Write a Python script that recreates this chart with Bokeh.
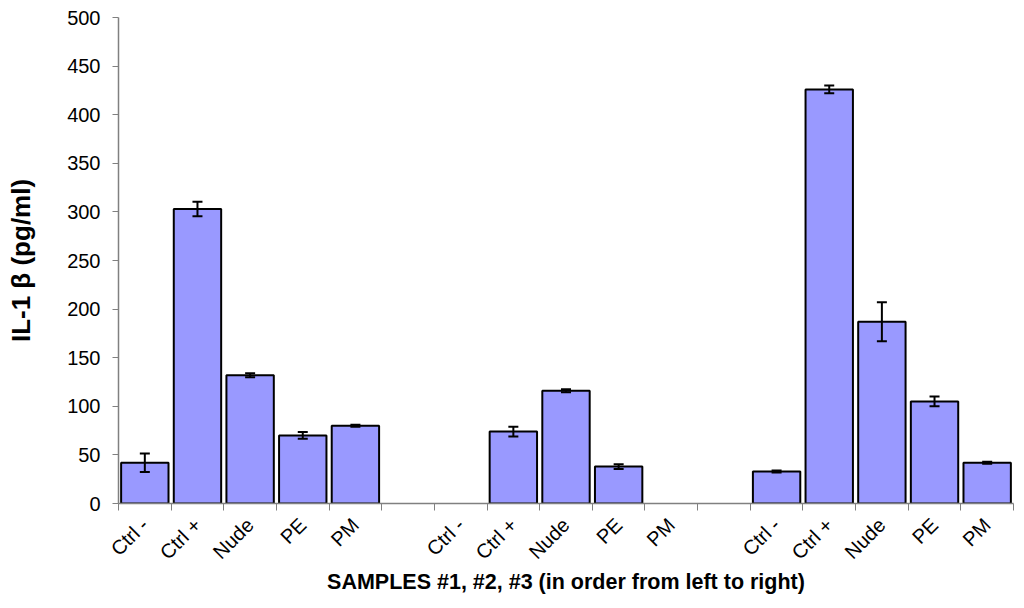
import math
from bokeh.plotting import figure
from bokeh.models import ColumnDataSource, FixedTicker, Whisker, TeeHead, Range1d
from bokeh.embed import file_html
from bokeh.resources import INLINE

categories = ["Ctrl -", "Ctrl +", "Nude", "PE", "PM"]
sample1 = [42, 303, 132, 70, 80]
err1 = [9.5, 7.5, 2, 3.5, 1]
sample2 = [None, 74, 116, 38, None]
err2 = [None, 5, 1.5, 2.5, None]
sample3 = [33, 426, 187, 105, 42]
err3 = [1, 4, 20, 5, 1]
y_ticks = list(range(0, 501, 50))

samples = [sample1, sample2, sample3]
errors = [err1, err2, err3]
n_cat = len(categories)
slots_per_group = n_cat + 1
n_slots = len(samples) * slots_per_group - 1

xs, tops, ups, lows = [], [], [], []
label_pos, label_txt = [], []
for g, (vals, errs) in enumerate(zip(samples, errors)):
    for i, (v, e) in enumerate(zip(vals, errs)):
        c = g * slots_per_group + i + 0.5
        label_pos.append(c)
        label_txt.append(categories[i])
        if v is None:
            continue
        xs.append(c)
        tops.append(v)
        ups.append(v + e)
        lows.append(v - e)

src = ColumnDataSource(dict(x=xs, top=tops, upper=ups, lower=lows))

p = figure(frame_width=895, frame_height=486, output_backend="svg", toolbar_location=None,
           x_range=Range1d(0, n_slots), y_range=Range1d(0, 500),
           min_border_left=118, min_border_top=17, min_border_right=8, min_border_bottom=4)
p.outline_line_color = None
p.xgrid.visible = False
p.ygrid.visible = False

p.vbar(x="x", top="top", width=0.9, bottom=0, source=src,
       fill_color="#9999FF", line_color="black", line_width=2)

w = Whisker(base="x", upper="upper", lower="lower", source=src,
            line_color="black", line_width=2, level="overlay",
            upper_head=TeeHead(size=10, line_color="black", line_width=2),
            lower_head=TeeHead(size=10, line_color="black", line_width=2))
p.add_layout(w)

font = "Liberation Sans"
# y axis
ya = p.yaxis[0]
ya.ticker = FixedTicker(ticks=y_ticks)
ya.axis_line_color = "#808080"
ya.axis_line_width = 1.5
ya.major_tick_line_color = "#808080"
ya.major_tick_in = 0
ya.major_tick_out = 6
ya.minor_tick_line_color = None
ya.major_label_text_font = font
ya.major_label_text_font_size = "20px"
ya.major_label_text_color = "black"
ya.major_label_standoff = 12
ya.axis_label = "IL-1 β (pg/ml)"
ya.axis_label_text_font = font
ya.axis_label_text_font_size = "26px"
ya.axis_label_text_font_style = "bold"
ya.axis_label_text_color = "black"
ya.axis_label_standoff = 28

# x axis
xa = p.xaxis[0]
xa.ticker = FixedTicker(ticks=label_pos, minor_ticks=list(range(0, n_slots + 1)))
xa.major_label_overrides = {c: t for c, t in zip(label_pos, label_txt)}
xa.major_label_orientation = math.pi / 4
xa.axis_line_color = "#808080"
xa.axis_line_width = 1.5
xa.major_tick_line_color = None
xa.major_tick_in = 0
xa.major_tick_out = 0
xa.minor_tick_line_color = "#808080"
xa.minor_tick_in = 0
xa.minor_tick_out = 7
xa.major_label_text_font = font
xa.major_label_text_font_size = "20px"
xa.major_label_text_color = "black"
xa.major_label_standoff = 11
xa.axis_label = "SAMPLES #1, #2, #3 (in order from left to right)"
xa.axis_label_text_font = font
xa.axis_label_text_font_size = "21.5px"
xa.axis_label_text_font_style = "bold"
xa.axis_label_text_color = "black"
xa.axis_label_standoff = -4

open("out.html", "w").write(file_html(p, INLINE))
